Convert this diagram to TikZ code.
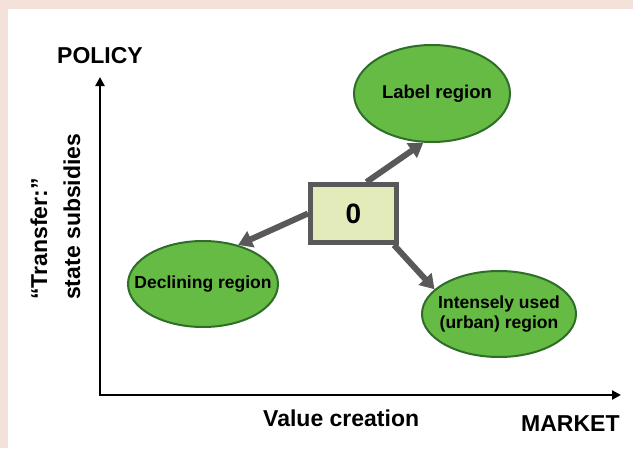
\documentclass[tikz,border=0pt]{standalone}
\usepackage{fontspec}
\setmainfont{Liberation Sans}
\usetikzlibrary{shapes.geometric,arrows.meta,calc}
\definecolor{bgpink}{RGB}{244,225,217}
\definecolor{egreen}{RGB}{102,187,68}
\definecolor{edgegreen}{RGB}{46,110,40}
\definecolor{boxfill}{RGB}{226,235,185}
\definecolor{darkgrey}{RGB}{89,89,89}
\begin{document}
\begin{tikzpicture}[x=1pt,y=-1pt,
  region/.style={ellipse, draw=edgegreen, line width=2pt, fill=egreen, inner sep=0pt, font=\bfseries\fontsize{17.5}{20}\selectfont},
  zerobox/.style={draw=darkgrey, line width=5pt, fill=boxfill, minimum width=86pt, minimum height=58pt, inner sep=0pt, font=\bfseries\fontsize{28}{30}\selectfont},
  flow/.style={draw=darkgrey, line width=6pt, -{Triangle[length=14pt,width=17pt]}},
  axis/.style={draw=black, line width=2.7pt, {Triangle[length=9pt,width=9pt]}-{Triangle[length=9pt,width=9pt]}},
  lbl/.style={font=\bfseries\fontsize{23}{27}\selectfont, inner sep=0pt}
]
\fill[bgpink] (0,0) rectangle (633,448);
\fill[white] (8,9) rectangle (633,448);
\useasboundingbox (0,0) rectangle (633,448);

\coordinate (origin) at (100,395);
\coordinate (ytip) at (100,77);
\coordinate (xtip) at (621,395);
\draw[axis] (ytip) -- (origin) -- (xtip);

\node[lbl, anchor=base west] (policy) at (57,63) {POLICY};
\node[lbl, anchor=base west] (market) at (521,431) {MARKET};
\node[lbl, anchor=base west] (value) at (263,426) {Value creation};
\node[lbl, rotate=90, anchor=base west] (transfer) at (47,300) {“Transfer:”};
\node[lbl, rotate=90, anchor=base west] (subsidies) at (80,300) {state subsidies};

\node[zerobox] (zero) at (353.5,213.5) {0};
\node[region, minimum width=156pt, minimum height=97pt, font=\bfseries\fontsize{18.5}{21}\selectfont] (labelr) at (432,93.5) {\makebox[0pt]{\hspace{10pt}Label region}};
\node[region, minimum width=150pt, minimum height=86pt] (decl) at (203,284) {\makebox[0pt]{Declining region}};
\node[region, minimum width=154pt, minimum height=86pt] (intense) at (499,314) {\makebox[0pt]{\begin{tabular}{@{}c@{}}Intensely used\\(urban) region\end{tabular}}};

\draw[flow] ($(zero.north)+(13,0)$) -- (labelr.-100);
\draw[flow] (zero.west) -- (decl.48);
\draw[flow] ($(zero.south east)+(-5,0)$) -- (intense.159);
\end{tikzpicture}
\end{document}
